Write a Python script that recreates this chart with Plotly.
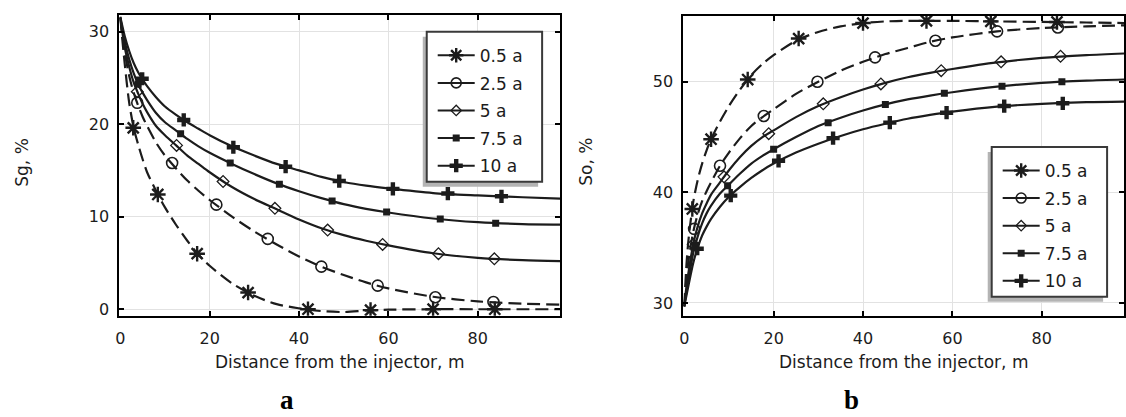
import plotly.graph_objects as go

# ---------------- Panel a: gas saturation Sg, % ----------------
SG_X = [0, 1, 2, 3, 4, 5, 6, 8, 10, 12.5, 15, 17.5, 20, 25, 30, 35, 40, 45, 50,
        55, 60, 70, 80, 90, 98.4]
SG_05 = [31.5, 26.5, 22.3, 19.6, 17.8, 16.2, 14.8, 12.8, 11.0, 9.1, 7.4, 5.9, 4.7,
         2.8, 1.45, 0.55, 0.1, -0.2, -0.3, -0.15, -0.05, 0.0, 0.0, 0.0, 0.0]
SG_25 = [31.5, 27.8, 25.2, 23.4, 22.0, 20.8, 19.8, 18.0, 16.6, 15.2, 13.9, 12.8, 11.8,
         10.0, 8.4, 7.0, 5.7, 4.6, 3.7, 2.9, 2.25, 1.35, 0.85, 0.6, 0.5]
SG_5 = [31.5, 28.3, 26.2, 24.5, 23.3, 22.2, 21.3, 19.8, 18.8, 17.7, 16.6, 15.7, 14.8,
        13.2, 11.9, 10.8, 9.7, 8.75, 8.0, 7.4, 6.9, 6.05, 5.55, 5.3, 5.2]
SG_75 = [31.5, 28.9, 27.0, 25.5, 24.3, 23.4, 22.6, 21.2, 20.2, 19.3, 18.4, 17.6, 16.9,
         15.7, 14.6, 13.6, 12.75, 12.0, 11.35, 10.85, 10.45, 9.8, 9.4, 9.2, 9.15]
SG_10 = [31.6, 29.5, 27.9, 26.6, 25.6, 24.8, 24.1, 22.9, 21.9, 21.0, 20.2, 19.5, 18.8,
         17.6, 16.6, 15.7, 15.0, 14.3, 13.75, 13.35, 13.05, 12.55, 12.3, 12.1, 11.95]

SG_MX_05 = [2.9, 8.4, 17.2, 28.6, 42, 56, 70, 83.8]
SG_MY_05 = [19.6, 12.4, 6.0, 1.8, 0.0, -0.1, 0.0, 0.0]
SG_MX_25 = [3.8, 11.6, 21.5, 33, 45, 57.6, 70.5, 83.5]
SG_MY_25 = [22.3, 15.8, 11.3, 7.6, 4.6, 2.55, 1.3, 0.78]
SG_MX_5 = [3.8, 12.6, 23.0, 34.6, 46.4, 58.7, 71.2, 83.7]
SG_MY_5 = [23.5, 17.7, 13.8, 10.9, 8.55, 7.0, 6.0, 5.45]
SG_MX_75 = [4.0, 13.5, 24.6, 35.6, 47.4, 59.6, 71.6, 84]
SG_MY_75 = [24.3, 18.95, 15.8, 13.5, 11.7, 10.5, 9.74, 9.3]
SG_MX_10 = [4.9, 14.2, 25.3, 37, 49, 61, 73.3, 85.3]
SG_MY_10 = [24.9, 20.45, 17.5, 15.4, 13.85, 13.0, 12.5, 12.2]

# ---------------- Panel b: oil saturation So, % ----------------
SO_X = [0, 0.5, 1, 2, 3, 4, 5, 6, 8, 10, 12.5, 15, 17.5, 20, 25, 30, 35, 40, 45, 50,
        55, 60, 70, 80, 90, 98.4]
SO_05 = [29.7, 33.5, 35.9, 39.1, 41.1, 42.6, 43.8, 44.8, 46.4, 47.8, 49.3, 50.6, 51.6,
         52.4, 53.7, 54.5, 55.0, 55.3, 55.45, 55.5, 55.5, 55.5, 55.45, 55.4, 55.35, 55.3]
SO_25 = [29.7, 32.2, 34.0, 36.4, 38.0, 39.2, 40.1, 40.9, 42.4, 43.6, 44.9, 46.0, 46.8,
         47.5, 48.9, 50.0, 51.0, 51.8, 52.5, 53.05, 53.6, 54.0, 54.55, 54.85, 55.0, 55.1]
SO_5 = [29.7, 31.5, 32.9, 35.3, 36.9, 38.1, 39.0, 39.8, 40.9, 42.0, 43.2, 44.2, 45.0,
        45.6, 46.8, 47.8, 48.6, 49.3, 49.9, 50.4, 50.8, 51.15, 51.75, 52.15, 52.4, 52.55]
SO_75 = [29.7, 31.0, 32.2, 34.5, 36.0, 37.2, 38.1, 38.8, 39.9, 40.7, 41.7, 42.6, 43.3,
         43.9, 45.0, 46.0, 46.75, 47.4, 47.95, 48.4, 48.75, 49.05, 49.55, 49.9, 50.1, 50.2]
SO_10 = [29.7, 30.7, 31.7, 33.6, 35.0, 36.1, 36.9, 37.6, 38.7, 39.6, 40.5, 41.3, 42.0,
         42.6, 43.6, 44.4, 45.1, 45.7, 46.2, 46.65, 47.0, 47.3, 47.75, 48.0, 48.15, 48.2]

SO_MX_05 = [1.8, 6, 14.2, 25.6, 40, 54.2, 68.6, 83.4]
SO_MY_05 = [38.5, 44.8, 50.2, 53.9, 55.3, 55.5, 55.45, 55.4]
SO_MX_25 = [2.2, 8, 17.8, 29.8, 42.7, 56.2, 70, 83.6]
SO_MY_25 = [36.7, 42.4, 46.9, 50.0, 52.2, 53.7, 54.55, 54.9]
SO_MX_5 = [2.0, 8.9, 18.9, 31.1, 44, 57.5, 70.9, 84.2]
SO_MY_5 = [35.3, 41.4, 45.3, 48.0, 49.8, 51.0, 51.8, 52.3]
SO_MX_75 = [2.5, 9.7, 20, 32.2, 45, 58.2, 71.1, 84.5]
SO_MY_75 = [35.2, 40.6, 43.9, 46.3, 47.95, 48.95, 49.6, 50.0]
SO_MX_10 = [2.9, 10.4, 21.1, 33.3, 46, 58.7, 71.6, 84.7]
SO_MY_10 = [34.9, 39.7, 42.85, 44.9, 46.3, 47.2, 47.8, 48.05]

LABELS = ["0.5 a", "2.5 a", "5 a", "7.5 a", "10 a"]
X_TITLE = "Distance from the injector, m"

INK = "#1c1c1c"
FONT = "DejaVu Sans"
W, H = 1126, 417

# per-series drawing style: (dash, symbol, marker size, marker line width)
STYLES = [
    ("13px,6px", "asterisk-open", 13, 2.4),
    ("13px,6px", "circle-open", 11, 1.6),
    ("solid", "diamond-open", 9, 1.3),
    ("solid", "square", 7, 0),
    ("solid", "cross", 11, 0),
]
LEGEND_MARKER_SIZE = [12, 10, 8, 7, 11]

fig = go.Figure()


def add_panel(xs, ys_list, mx_list, my_list, xa, ya, legend_name, group_prefix):
    for i, (ys, mx, my) in enumerate(zip(ys_list, mx_list, my_list)):
        dash, sym, msize, mlw = STYLES[i]
        grp = f"{group_prefix}{i}"
        mk = dict(symbol=sym, size=msize, color=INK, line=dict(color=INK, width=mlw))
        fig.add_trace(go.Scatter(
            x=xs, y=ys, mode="lines", xaxis=xa, yaxis=ya,
            line=dict(color=INK, width=2.2, dash=dash, shape="spline", smoothing=0.8),
            showlegend=False, legendgroup=grp, legend=legend_name, hoverinfo="skip"))
        fig.add_trace(go.Scatter(
            x=mx, y=my, mode="markers", xaxis=xa, yaxis=ya, marker=mk,
            showlegend=False, legendgroup=grp, legend=legend_name))
        lmk = dict(mk)
        lmk["size"] = LEGEND_MARKER_SIZE[i]
        fig.add_trace(go.Scatter(
            x=[None], y=[None], mode="lines+markers", xaxis=xa, yaxis=ya,
            name=LABELS[i], line=dict(color=INK, width=2),
            marker=lmk, legendgroup=grp, legend=legend_name, showlegend=True))


add_panel(SG_X, [SG_05, SG_25, SG_5, SG_75, SG_10],
          [SG_MX_05, SG_MX_25, SG_MX_5, SG_MX_75, SG_MX_10],
          [SG_MY_05, SG_MY_25, SG_MY_5, SG_MY_75, SG_MY_10],
          "x", "y", "legend", "a")
add_panel(SO_X, [SO_05, SO_25, SO_5, SO_75, SO_10],
          [SO_MX_05, SO_MX_25, SO_MX_5, SO_MX_75, SO_MX_10],
          [SO_MY_05, SO_MY_25, SO_MY_5, SO_MY_75, SO_MY_10],
          "x2", "y2", "legend2", "b")


def px_x(p):
    return p / W


def px_y(p):
    return 1 - p / H


axis_common = dict(
    showline=True, linecolor="#000", linewidth=2, mirror="allticks",
    ticks="inside", ticklen=5, tickwidth=1.5, tickcolor="#000",
    showgrid=True, gridcolor="#e2e2e2", gridwidth=1, zeroline=False,
    tickfont=dict(family=FONT, size=16, color=INK),
)

legend_common = dict(xanchor="left", yanchor="top", bgcolor="rgba(0,0,0,0)",
                     borderwidth=0, tracegroupgap=2.5, itemwidth=37,
                     font=dict(family=FONT, size=17, color=INK))

fig.update_layout(
    width=W, height=H, margin=dict(l=0, r=0, t=0, b=0),
    paper_bgcolor="white", plot_bgcolor="white",
    font=dict(family=FONT, size=16, color=INK),
    xaxis=dict(domain=[px_x(116), px_x(559)], range=[-0.2, 98.4], dtick=20,
               anchor="y", ticklabelstandoff=7, **axis_common),
    yaxis=dict(domain=[px_y(318), px_y(15)], range=[-0.7, 31.8], dtick=10,
               anchor="x", ticklabelstandoff=5, **axis_common),
    xaxis2=dict(domain=[px_x(683), 1.0], range=[-0.2, 98.4], dtick=20,
                anchor="y2", ticklabelstandoff=7, **axis_common),
    yaxis2=dict(domain=[px_y(318), px_y(16)], range=[28.85, 55.95], dtick=10,
                anchor="x2", ticklabelstandoff=5, **axis_common),
    legend=dict(x=px_x(431), y=px_y(38), **legend_common),
    legend2=dict(x=px_x(999), y=px_y(154), **legend_common),
)

# legend frames with a soft drop shadow
for (x0, y0, x1, y1) in [(425, 32, 541, 183), (993, 148, 1109, 299)]:
    fig.add_shape(type="rect", xref="paper", yref="paper", layer="above",
                  x0=px_x(x0 - 4), x1=px_x(x1 - 4), y0=px_y(y0 + 5), y1=px_y(y1 + 5),
                  fillcolor="#b4b4b4", line=dict(width=0))
    fig.add_shape(type="rect", xref="paper", yref="paper", layer="above",
                  x0=px_x(x0), x1=px_x(x1), y0=px_y(y0), y1=px_y(y1),
                  fillcolor="white", line=dict(color="#3a3a3a", width=2))

# axis titles and panel captions
for (xp, yp, txt, ang) in [(18, 163, "Sg, %", -90), (585, 163, "So, %", -90),
                           (337, 365, X_TITLE, 0), (904, 365, X_TITLE, 0)]:
    fig.add_annotation(x=px_x(xp), y=px_y(yp), xref="paper", yref="paper",
                       text=txt, textangle=ang, showarrow=False,
                       xanchor="center", yanchor="middle",
                       font=dict(family=FONT, size=17, color=INK))
for (xp, yp, txt) in [(285, 403, "a"), (852, 403, "b")]:
    fig.add_annotation(x=px_x(xp), y=px_y(yp), xref="paper", yref="paper",
                       text=f"<b>{txt}</b>", showarrow=False,
                       xanchor="center", yanchor="middle",
                       font=dict(family="Liberation Serif", size=27, color="#000"))

fig.write_html("out.html")
